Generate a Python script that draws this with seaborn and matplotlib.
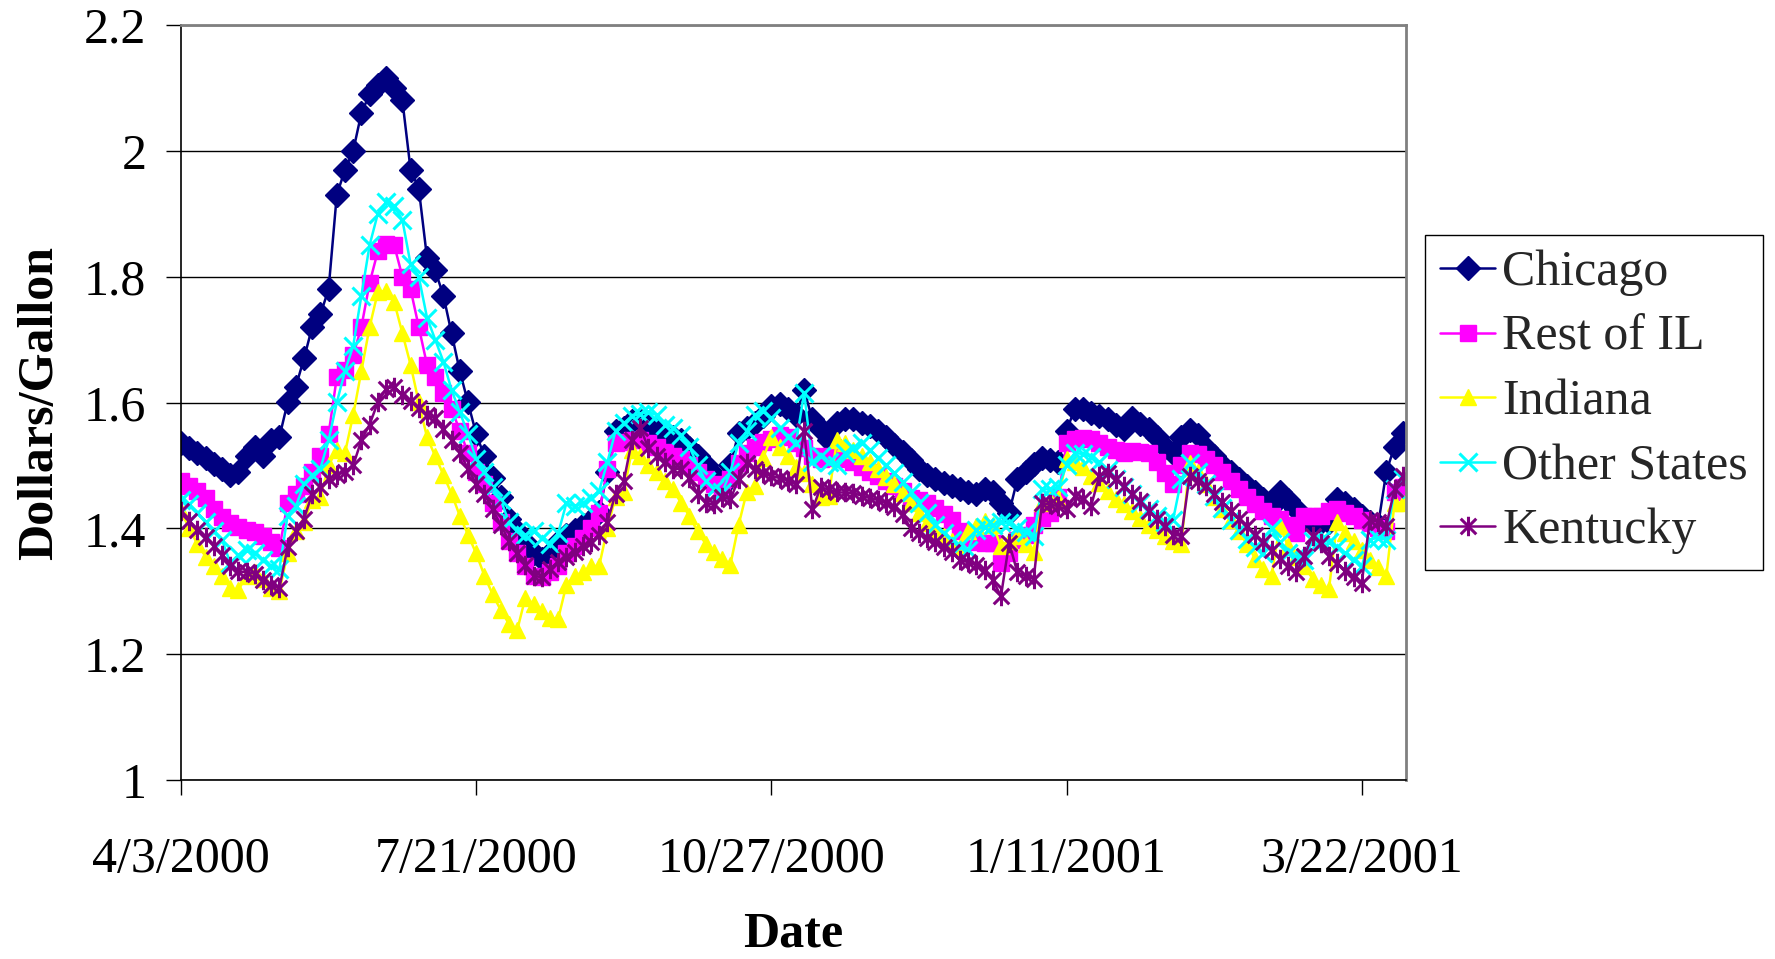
import matplotlib
matplotlib.use('Agg')  # no display

import numpy as np
import matplotlib.pyplot as plt
from matplotlib.path import Path
import seaborn as sns

# -------------------------
# Data (dollars per gallon)
# -------------------------

tick_labels = ["4/3/2000", "7/21/2000", "10/27/2000", "1/11/2001", "3/22/2001"]
points_per_tick = 36

chicago = [
    1.535, 1.528, 1.520, 1.512, 1.503, 1.495, 1.485, 1.490, 1.515, 1.530,
    1.515, 1.540, 1.545, 1.600, 1.625, 1.670, 1.720, 1.740, 1.780, 1.930,
    1.970, 2.000, 2.060, 2.090, 2.105, 2.115, 2.100, 2.080, 1.970, 1.940,
    1.830, 1.810, 1.770, 1.710, 1.650, 1.600, 1.550, 1.515, 1.480, 1.450,
    1.415, 1.395, 1.378, 1.360, 1.352, 1.360, 1.378, 1.390, 1.398, 1.405,
    1.414, 1.426, 1.490, 1.555, 1.560, 1.570, 1.572, 1.565, 1.560, 1.552,
    1.545, 1.540, 1.528, 1.515, 1.500, 1.485, 1.468, 1.500, 1.552, 1.560,
    1.568, 1.578, 1.595, 1.598, 1.590, 1.580, 1.620, 1.573, 1.558, 1.540,
    1.568, 1.573, 1.573, 1.568, 1.562, 1.555, 1.545, 1.532, 1.522, 1.508,
    1.495, 1.485, 1.478, 1.472, 1.467, 1.462, 1.458, 1.454, 1.462, 1.457,
    1.440, 1.425, 1.478, 1.490, 1.503, 1.512, 1.508, 1.505, 1.555, 1.590,
    1.590, 1.583, 1.578, 1.573, 1.565, 1.558, 1.576, 1.566, 1.558, 1.545,
    1.530, 1.520, 1.545, 1.556, 1.548, 1.528, 1.515, 1.500, 1.490, 1.478,
    1.468, 1.458, 1.447, 1.436, 1.458, 1.445, 1.430, 1.414, 1.410, 1.410,
    1.410, 1.446, 1.440, 1.430, 1.420, 1.410, 1.405, 1.490, 1.530, 1.552,
]

rest_of_il = [
    1.475, 1.468, 1.460, 1.448, 1.430, 1.418, 1.408, 1.402, 1.398, 1.394,
    1.388, 1.378, 1.368, 1.440, 1.455, 1.468, 1.490, 1.515, 1.550, 1.640,
    1.652, 1.675, 1.720, 1.790, 1.840, 1.852, 1.850, 1.800, 1.780, 1.720,
    1.660, 1.640, 1.615, 1.590, 1.555, 1.520, 1.490, 1.470, 1.440, 1.410,
    1.380, 1.360, 1.340, 1.325, 1.322, 1.330, 1.340, 1.360, 1.372, 1.385,
    1.400, 1.425, 1.495, 1.535, 1.538, 1.540, 1.540, 1.535, 1.530, 1.522,
    1.515, 1.510, 1.500, 1.490, 1.478, 1.470, 1.462, 1.478, 1.504, 1.520,
    1.530, 1.538, 1.542, 1.548, 1.545, 1.535, 1.528, 1.515, 1.510, 1.515,
    1.512, 1.510, 1.505, 1.498, 1.490, 1.483, 1.476, 1.468, 1.460, 1.448,
    1.445, 1.440, 1.432, 1.422, 1.414, 1.395, 1.384, 1.378, 1.377, 1.376,
    1.345, 1.360, 1.382, 1.390, 1.405, 1.416, 1.425, 1.450, 1.535, 1.542,
    1.544, 1.542, 1.536, 1.530, 1.525, 1.520, 1.523, 1.522, 1.520, 1.505,
    1.488, 1.470, 1.500, 1.520, 1.518, 1.510, 1.500, 1.490, 1.475, 1.462,
    1.450, 1.438, 1.428, 1.420, 1.415, 1.405, 1.393, 1.420, 1.420, 1.420,
    1.428, 1.430, 1.425, 1.420, 1.414, 1.408, 1.400, 1.395, 1.458, 1.465,
]

indiana = [
    1.427, 1.400, 1.375, 1.355, 1.340, 1.325, 1.305, 1.302, 1.325, 1.330,
    1.320, 1.305, 1.300, 1.360, 1.395, 1.410, 1.445, 1.450, 1.500, 1.525,
    1.520, 1.580, 1.650, 1.720, 1.775, 1.778, 1.760, 1.710, 1.660, 1.600,
    1.545, 1.515, 1.485, 1.455, 1.420, 1.390, 1.360, 1.325, 1.295, 1.270,
    1.248, 1.238, 1.290, 1.280, 1.268, 1.258, 1.256, 1.310, 1.325, 1.330,
    1.340, 1.340, 1.400, 1.450, 1.457, 1.525, 1.515, 1.500, 1.490, 1.475,
    1.462, 1.440, 1.420, 1.395, 1.375, 1.362, 1.352, 1.342, 1.405, 1.458,
    1.467, 1.512, 1.545, 1.530, 1.515, 1.498, 1.488, 1.470, 1.450, 1.452,
    1.540, 1.536, 1.525, 1.515, 1.505, 1.495, 1.482, 1.470, 1.456, 1.440,
    1.425, 1.408, 1.398, 1.388, 1.380, 1.370, 1.395, 1.404, 1.412, 1.405,
    1.372, 1.380, 1.388, 1.375, 1.362, 1.440, 1.445, 1.446, 1.510, 1.505,
    1.498, 1.483, 1.472, 1.460, 1.446, 1.438, 1.428, 1.416, 1.405, 1.398,
    1.388, 1.380, 1.375, 1.504, 1.490, 1.470, 1.450, 1.430, 1.414, 1.395,
    1.375, 1.352, 1.335, 1.324, 1.404, 1.372, 1.355, 1.340, 1.320, 1.310,
    1.303, 1.410, 1.393, 1.380, 1.366, 1.350, 1.338, 1.324, 1.440, 1.440,
]

other_states = [
    1.445, 1.438, 1.425, 1.410, 1.395, 1.382, 1.345, 1.358, 1.365, 1.360,
    1.350, 1.340, 1.335, 1.420, 1.435, 1.470, 1.485, 1.495, 1.540, 1.600,
    1.650, 1.690, 1.770, 1.850, 1.900, 1.918, 1.912, 1.890, 1.820, 1.800,
    1.735, 1.700, 1.665, 1.620, 1.585, 1.550, 1.510, 1.490, 1.465, 1.445,
    1.410, 1.395, 1.390, 1.395, 1.384, 1.375, 1.392, 1.440, 1.435, 1.440,
    1.448, 1.460, 1.505, 1.555, 1.567, 1.578, 1.582, 1.585, 1.580, 1.565,
    1.560, 1.548, 1.530, 1.500, 1.475, 1.462, 1.457, 1.490, 1.535, 1.555,
    1.580, 1.587, 1.575, 1.560, 1.545, 1.535, 1.615, 1.505, 1.515, 1.505,
    1.500, 1.520, 1.528, 1.536, 1.525, 1.512, 1.500, 1.488, 1.474, 1.458,
    1.440, 1.425, 1.405, 1.392, 1.382, 1.372, 1.366, 1.398, 1.402, 1.405,
    1.410, 1.408, 1.400, 1.394, 1.388, 1.462, 1.462, 1.465, 1.500, 1.520,
    1.518, 1.514, 1.505, 1.492, 1.478, 1.466, 1.455, 1.440, 1.430, 1.420,
    1.410, 1.414, 1.478, 1.504, 1.490, 1.470, 1.452, 1.432, 1.414, 1.398,
    1.383, 1.370, 1.360, 1.400, 1.378, 1.360, 1.355, 1.350, 1.380, 1.382,
    1.378, 1.370, 1.360, 1.350, 1.340, 1.382, 1.385, 1.382, 1.462, 1.478,
]

kentucky = [
    1.427, 1.412, 1.398, 1.386, 1.372, 1.358, 1.340, 1.332, 1.330, 1.328,
    1.318, 1.310, 1.305, 1.370, 1.395, 1.415, 1.455, 1.465, 1.478, 1.485,
    1.490, 1.500, 1.540, 1.565, 1.600, 1.622, 1.625, 1.612, 1.603, 1.592,
    1.580, 1.575, 1.558, 1.540, 1.520, 1.495, 1.470, 1.455, 1.430, 1.405,
    1.380, 1.360, 1.342, 1.325, 1.322, 1.335, 1.347, 1.355, 1.362, 1.372,
    1.378, 1.390, 1.410, 1.455, 1.475, 1.540, 1.560, 1.528, 1.515, 1.505,
    1.495, 1.494, 1.480, 1.455, 1.440, 1.438, 1.450, 1.446, 1.478, 1.504,
    1.495, 1.488, 1.483, 1.480, 1.476, 1.470, 1.555, 1.430, 1.465, 1.462,
    1.457, 1.457, 1.456, 1.452, 1.448, 1.445, 1.440, 1.434, 1.422, 1.400,
    1.392, 1.385, 1.378, 1.370, 1.362, 1.350, 1.346, 1.342, 1.334, 1.318,
    1.292, 1.377, 1.330, 1.324, 1.320, 1.440, 1.438, 1.435, 1.430, 1.451,
    1.446, 1.436, 1.483, 1.488, 1.478, 1.467, 1.455, 1.443, 1.428, 1.415,
    1.404, 1.390, 1.388, 1.483, 1.475, 1.467, 1.455, 1.442, 1.428, 1.415,
    1.404, 1.390, 1.378, 1.365, 1.352, 1.340, 1.330, 1.356, 1.388, 1.377,
    1.356, 1.345, 1.332, 1.322, 1.313, 1.414, 1.410, 1.404, 1.462, 1.483,
]

series_names = ["Chicago", "Rest of IL", "Indiana", "Other States", "Kentucky"]
series_values = [chicago, rest_of_il, indiana, other_states, kentucky]
series_colors = ["#000080", "#FF00FF", "#FFFF00", "#00FFFF", "#800080"]

# Excel style asterisk marker: an x with a vertical bar
asterisk = Path(
    [(-1, -1), (1, 1), (-1, 1), (1, -1), (0, -1.25), (0, 1.25)],
    [Path.MOVETO, Path.LINETO] * 3,
)
series_markers = ["D", "s", "^", "x", asterisk]
marker_sizes = [12, 11, 12, 13, 14]

# -------------------------
# Plot
# -------------------------

sns.set_theme(style="white")
plt.rcParams['font.family'] = ['Liberation Serif', 'DejaVu Serif']

fig = plt.figure(figsize=(17.75, 9.59), dpi=100)
ax = fig.add_axes([181 / 1775, 1 - 780 / 959, (1406 - 181) / 1775, (780 - 25) / 959])

idx = np.arange(len(chicago))
handles = []
for name, vals, col, mk, ms in zip(series_names, series_values, series_colors,
                                   series_markers, marker_sizes):
    open_marker = mk in ("x",) or isinstance(mk, Path)
    sns.lineplot(
        x=idx, y=vals, ax=ax, color=col, linewidth=1.8,
        marker=mk, markersize=ms,
        markeredgecolor=col,
        markerfacecolor="none" if open_marker else col,
        markeredgewidth=2.2 if open_marker else 1.0,
        sort=False, errorbar=None, legend=False,
    )
    line = ax.lines[-1]
    line.set_label(name)
    handles.append(line)

ax.set_xlim(0, 149.4)
ax.set_ylim(1, 2.2)
ax.set_yticks(np.arange(1.0, 2.21, 0.2))
ax.set_yticklabels([f"{v:g}" for v in np.arange(1.0, 2.21, 0.2).round(1)])
ax.set_xticks(np.arange(len(tick_labels)) * points_per_tick)
ax.set_xticklabels(tick_labels)

ax.grid(axis="y", color="black", linewidth=1.0)
ax.grid(axis="x", visible=False)
ax.set_axisbelow(True)

ax.tick_params(axis="both", direction="out", length=11, width=1.0,
               color="black", labelsize=36, labelcolor="black")
ax.tick_params(axis="x", pad=30, bottom=True)
ax.tick_params(axis="y", pad=14, left=True)

for side in ["left", "bottom"]:
    ax.spines[side].set_color("black")
    ax.spines[side].set_linewidth(1.2)
for side in ["top", "right"]:
    ax.spines[side].set_visible(True)
    ax.spines[side].set_color("#808080")
    ax.spines[side].set_linewidth(2.0)

ax.set_xlabel("Date", fontsize=36, fontweight="bold", color="black", labelpad=20)
ax.set_ylabel("Dollars/Gallon", fontsize=36, fontweight="bold", color="black", labelpad=15)

leg = fig.legend(
    handles=handles, loc="upper left",
    bbox_to_anchor=(1425 / 1775, 1 - 235 / 959),
    fontsize=36, frameon=True, fancybox=False, framealpha=1,
    edgecolor="black", borderpad=0.3, labelspacing=0.36,
    handlelength=1.1, handletextpad=0.15, borderaxespad=0,
)
leg.get_frame().set_linewidth(1.0)

fig.savefig("out.png", dpi=100, facecolor="white")
plt.close(fig)
